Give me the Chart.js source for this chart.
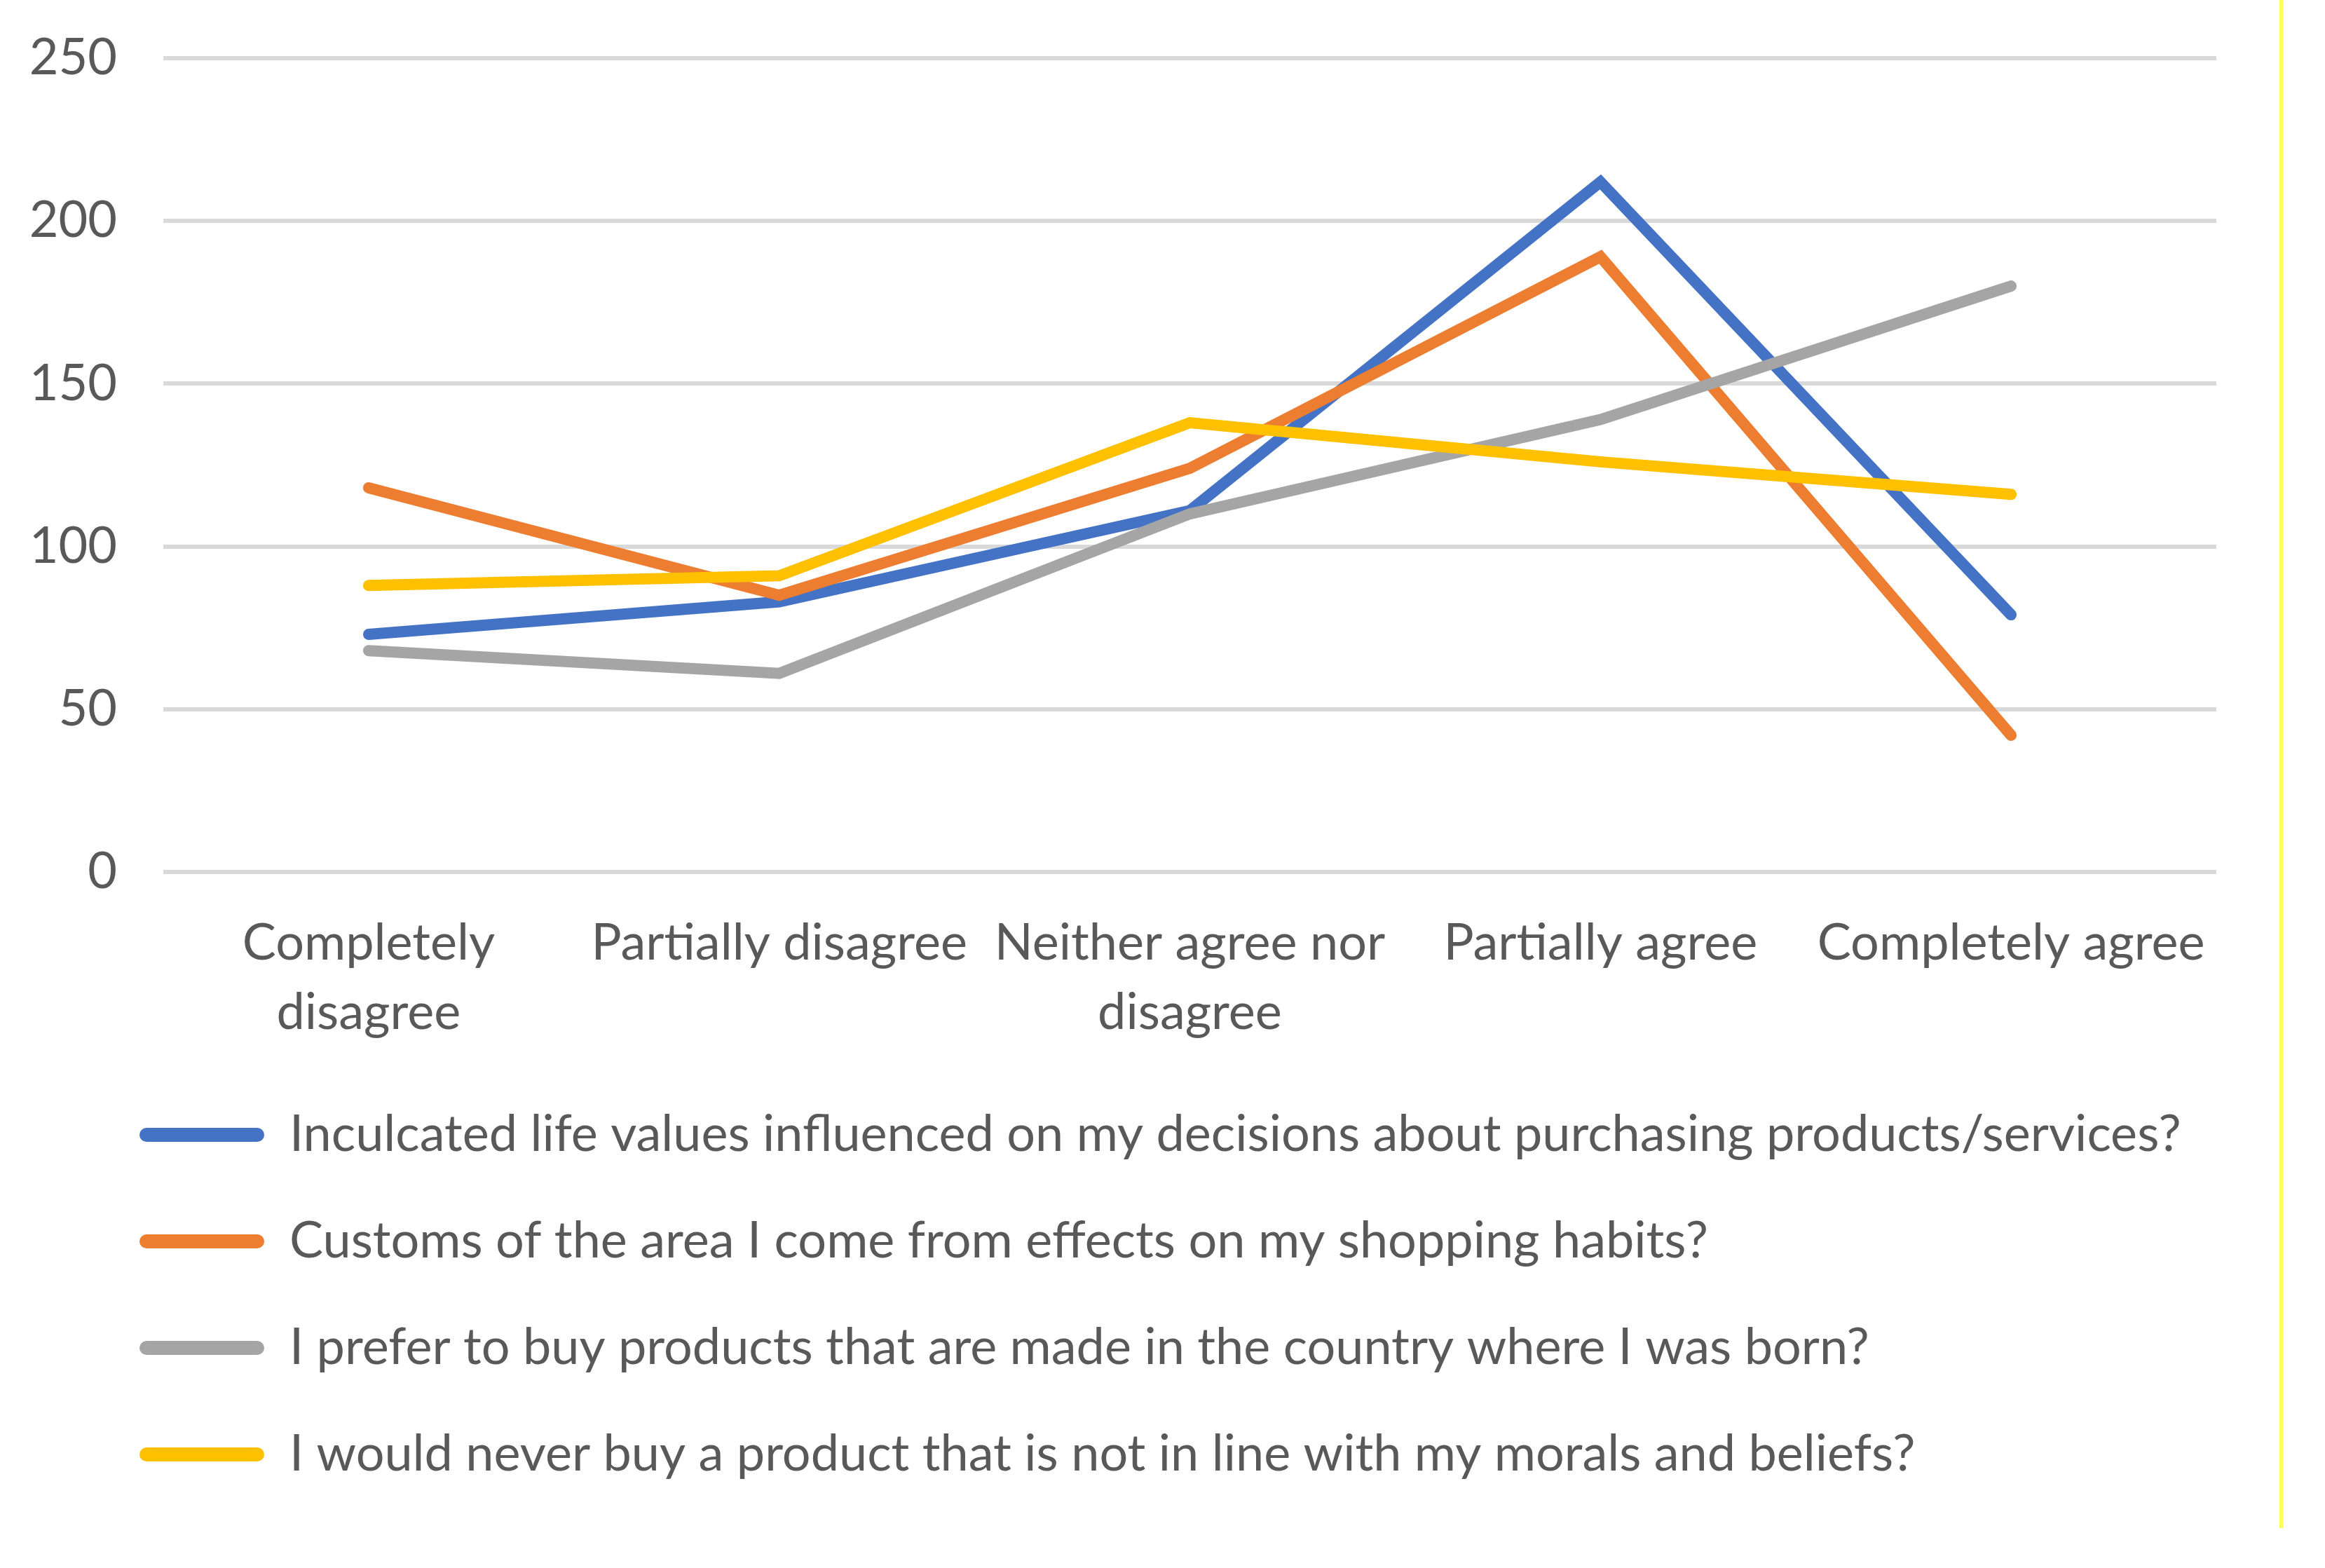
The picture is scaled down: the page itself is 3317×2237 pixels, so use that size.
<!DOCTYPE html>
<html>
<head>
<meta charset="utf-8">
<script src="https://cdn.jsdelivr.net/npm/chart.js@4.4.1/dist/chart.umd.min.js"></script>
<style>
html,body{margin:0;padding:0;background:#fff;overflow:hidden}
#wrap{position:relative;width:3317px;height:2237px;background:#fff}
#edge{position:absolute;left:3252px;top:0;width:5px;height:2180px;background:#ffff5a}
</style>
</head>
<body>
<div id="wrap"><canvas id="c" width="3317" height="2237"></canvas><div id="edge"></div></div>
<script>
// ---- data ----
const categories = [["Completely", "disagree"], "Partially disagree", ["Neither agree nor", "disagree"], "Partially agree", "Completely agree"];
const seriesNames = [
  "Inculcated life values influenced on my decisions about purchasing products/services?",
  "Customs of the area I come from effects on my shopping habits?",
  "I prefer to buy products that are made in the country where I was born?",
  "I would never buy a product that is not in line with my morals and beliefs?"
];
const lifeValues    = [73, 83, 111, 212, 79];
const customs       = [118, 85, 124, 189, 42];
const madeInCountry = [68, 61, 110, 139, 180];
const moralsBeliefs = [88, 91, 138, 126, 116];
const yTickMin = 0, yTickMax = 250, yTickStep = 50;

// ---- style ----
const colors = ["#4472C4", "#ED7D31", "#A5A5A5", "#FFC000"];
const seriesValues = [lifeValues, customs, madeInCountry, moralsBeliefs];
const drawOrder = [4, 3, 2, 1];
const textColor = "#595959";
const FONT = "Lato";

Chart.defaults.font.family = FONT;
Chart.defaults.color = textColor;

const datasets = seriesValues.map((vals, i) => ({
  label: seriesNames[i],
  data: vals,
  borderColor: colors[i],
  backgroundColor: colors[i],
  borderWidth: 16,
  borderCapStyle: "round",
  borderJoinStyle: "miter",
  pointRadius: 0,
  pointHoverRadius: 0,
  tension: 0,
  fill: false,
  order: drawOrder[i]
}));

const legendShift = {
  id: "legendShift",
  afterLayout(chart) {
    if (chart.legend) chart.legend.left = 119;
  }
};

new Chart(document.getElementById("c"), {
  type: "line",
  data: { labels: categories, datasets },
  plugins: [legendShift],
  options: {
    responsive: false,
    devicePixelRatio: 1,
    animation: false,
    layout: { padding: { left: 30, right: 155, top: 83, bottom: 116 } },
    scales: {
      x: {
        offset: true,
        grid: { display: false, drawTicks: false },
        border: { display: false },
        ticks: {
          color: textColor,
          font: { size: 72, lineHeight: 1.375 },
          padding: 52,
          maxRotation: 0,
          autoSkip: false
        },
        afterFit(scale) { scale.height = 259; }
      },
      y: {
        min: yTickMin,
        max: yTickMax,
        grid: { color: "#d9d9d9", lineWidth: 6, drawTicks: false },
        border: { display: false },
        ticks: {
          stepSize: yTickStep,
          color: textColor,
          font: { size: 72 },
          padding: 66
        },
        afterFit(scale) {
          scale.width = 203;
          scale.paddingTop = 40;
          scale.paddingBottom = 40;
        }
      }
    },
    plugins: {
      tooltip: { enabled: false },
      legend: {
        position: "bottom",
        align: "start",
        labels: {
          color: textColor,
          font: { size: 72 },
          boxWidth: 178,
          boxHeight: 20,
          padding: 80,
          useBorderRadius: true,
          borderRadius: 10,
          sort: (a, b) => a.datasetIndex - b.datasetIndex,
          generateLabels(chart) {
            const items = Chart.defaults.plugins.legend.labels.generateLabels(chart);
            items.forEach(it => {
              it.fillStyle = colors[it.datasetIndex];
              it.strokeStyle = colors[it.datasetIndex];
              it.lineWidth = 0;
            });
            return items;
          }
        }
      }
    }
  }
});
</script>
</body>
</html>
